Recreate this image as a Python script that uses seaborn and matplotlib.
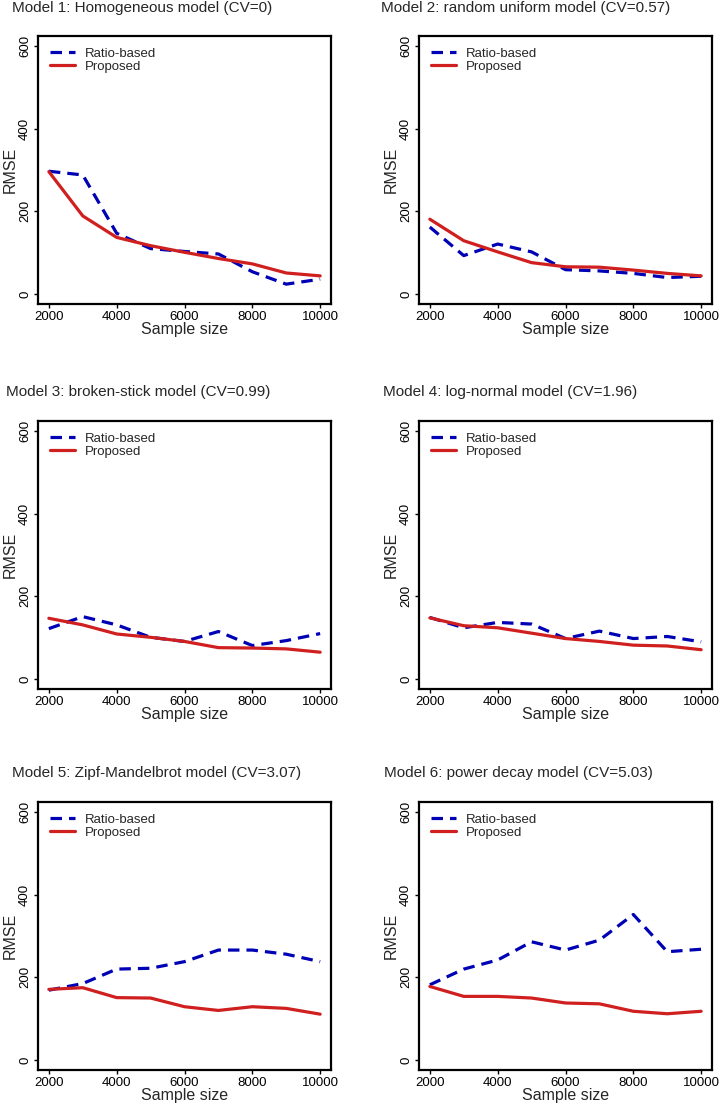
import matplotlib
matplotlib.use("Agg")
import matplotlib.pyplot as plt
import seaborn as sns
import pandas as pd

sample_size = [2000, 3000, 4000, 5000, 6000, 7000, 8000, 9000, 10000]

titles = [
    "Model 1: Homogeneous model (CV=0)",
    "Model 2: random uniform model (CV=0.57)",
    "Model 3: broken-stick model (CV=0.99)",
    "Model 4: log-normal model (CV=1.96)",
    "Model 5: Zipf-Mandelbrot model (CV=3.07)",
    "Model 6: power decay model (CV=5.03)",
]

ratio_m1 = [297, 288, 147, 110, 103, 97, 54, 24, 36]
prop_m1 = [296, 189, 137, 117, 101, 86, 73, 51, 44]
ratio_m2 = [162, 93, 121, 102, 59, 56, 50, 40, 43]
prop_m2 = [181, 129, 102, 76, 66, 65, 58, 50, 44]
ratio_m3 = [122, 151, 131, 101, 91, 115, 81, 93, 110]
prop_m3 = [147, 131, 109, 101, 91, 76, 75, 73, 65]
ratio_m4 = [149, 124, 137, 133, 98, 116, 98, 103, 90]
prop_m4 = [148, 129, 124, 111, 98, 91, 82, 80, 71]
ratio_m5 = [169, 185, 220, 222, 238, 266, 266, 256, 238]
prop_m5 = [171, 175, 151, 150, 129, 120, 129, 125, 111]
ratio_m6 = [182, 220, 242, 286, 266, 290, 352, 262, 268]
prop_m6 = [178, 154, 154, 150, 138, 136, 118, 112, 118]

ratio_all = [ratio_m1, ratio_m2, ratio_m3, ratio_m4, ratio_m5, ratio_m6]
prop_all = [prop_m1, prop_m2, prop_m3, prop_m4, prop_m5, prop_m6]

series_names = ["Ratio-based", "Proposed"]
x_ticks = [2000, 4000, 6000, 8000, 10000]
y_ticks = [0, 200, 400, 600]

sns.set_style("white")
plt.rcParams["font.family"] = ["Liberation Sans", "DejaVu Sans"]

W, H = 722, 1110
fig = plt.figure(figsize=(W / 100, H / 100), dpi=100)

col_x = [38, 419]
row_top = [36, 421, 802]
ax_w, ax_h = 293, 268
title_pos = [(12, 8), (381, 8), (6, 392), (383, 392), (12, 773), (384, 773)]

blue = "#0000B4"
red = "#D01F1F"

for i in range(6):
    r, c = divmod(i, 2)
    left = col_x[c] / W
    bottom = 1 - (row_top[r] + ax_h) / H
    ax = fig.add_axes([left, bottom, ax_w / W, ax_h / H])
    df = pd.DataFrame({
        "Sample size": sample_size * 2,
        "RMSE": ratio_all[i] + prop_all[i],
        "Method": [series_names[0]] * len(sample_size) + [series_names[1]] * len(sample_size),
    })
    sns.lineplot(data=df, x="Sample size", y="RMSE", hue="Method", style="Method",
                 palette={series_names[0]: blue, series_names[1]: red},
                 dashes={series_names[0]: (3.6, 2.2), series_names[1]: ""},
                 linewidth=2.3, ax=ax, legend=True)
    ax.set_xlim(1680, 10320)
    ax.set_ylim(-24, 624)
    ax.set_xticks(x_ticks)
    ax.set_yticks(y_ticks)
    ax.tick_params(axis="both", direction="out", length=3, width=1, pad=2, labelsize=9.5,
                   bottom=True, left=True, color="black", labelcolor="black")
    for lab in ax.get_yticklabels():
        lab.set_rotation(90)
        lab.set_va("center")
    for sp in ax.spines.values():
        sp.set_linewidth(1.6)
        sp.set_color("black")
    ax.set_xlabel("Sample size", fontsize=11.5, labelpad=-1)
    ax.set_ylabel("RMSE", fontsize=11.5, labelpad=1)
    ax.legend(loc="upper left", frameon=False, fontsize=9.5, handlelength=1.9,
              borderaxespad=0.5, labelspacing=0.05, handletextpad=0.75)
    tx, ty = title_pos[i]
    fig.text(tx / W, 1 - ty / H, titles[i], fontsize=11, ha="left", va="center")

fig.savefig("out.png", dpi=100, facecolor="white")
